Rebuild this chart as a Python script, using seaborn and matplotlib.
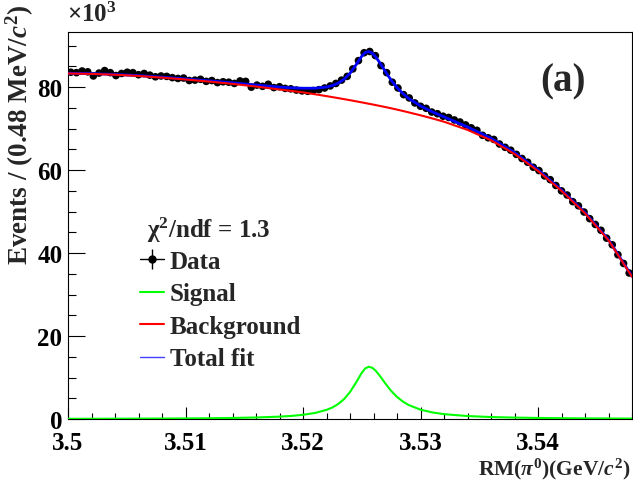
import numpy as np
import pandas as pd
import matplotlib
matplotlib.use("Agg")
import matplotlib.pyplot as plt
import seaborn as sns
from matplotlib.lines import Line2D
from matplotlib.legend_handler import HandlerTuple
from matplotlib.ticker import MultipleLocator, FuncFormatter

# ---------------- data (in units of 10^3 events) ----------------
x_low = 3.500          # GeV/c^2, first bin edge
bin_width = 0.00048    # GeV/c^2

counts = [83.6, 83.5, 83.9, 83.7, 82.7, 83.4, 84.0, 83.5, 82.8, 83.3,
          83.6, 83.5, 83.0, 83.3, 82.9, 82.5, 82.7, 82.6, 82.3, 82.1,
          82.2, 81.6, 81.7, 81.9, 81.4, 81.6, 81.1, 81.3, 81.2, 80.9,
          81.5, 81.4, 80.0, 80.5, 80.2, 80.7, 79.9, 80.1, 79.7, 79.6,
          79.3, 79.1, 79.0, 79.2, 79.4, 79.8, 80.3, 80.9, 81.7, 82.6,
          84.4, 86.4, 88.3, 88.6, 87.6, 85.2, 83.5, 81.2, 79.8, 78.2,
          77.4, 76.2, 75.4, 74.9, 74.0, 73.6, 73.0, 72.7, 72.1, 71.6,
          70.9, 70.2, 69.6, 68.4, 67.8, 67.4, 66.3, 65.5, 64.8, 63.8,
          62.8, 61.9, 60.7, 59.9, 58.6, 57.7, 56.3, 55.0, 54.0, 52.4,
          51.4, 49.9, 48.3, 46.9, 45.5, 43.6, 42.0, 39.6, 37.5, 35.2]

fit_x = [3.500, 3.502, 3.504, 3.506, 3.508, 3.510, 3.512, 3.514, 3.516, 3.518,
         3.519, 3.520, 3.521, 3.522, 3.5225, 3.523, 3.5235, 3.524, 3.5245, 3.525,
         3.5253, 3.5256, 3.5259, 3.5262, 3.5266, 3.527, 3.5275, 3.528, 3.5285, 3.529,
         3.530, 3.531, 3.532, 3.534, 3.536, 3.538, 3.540, 3.542, 3.544, 3.546, 3.548]

background = [83.3, 83.2, 83.0, 82.7, 82.3, 81.85, 81.35, 80.8, 80.15, 79.45,
              79.1, 78.74, 78.3, 77.84, 77.6, 77.36, 77.11, 76.86, 76.6, 76.33,
              76.17, 76.0, 75.84, 75.67, 75.44, 75.21, 74.91, 74.59, 74.26, 73.92,
              73.22, 72.47, 71.67, 69.7, 67.2, 63.9, 59.8, 55.0, 49.6, 43.1, 34.3]

signal = [0.05, 0.06, 0.07, 0.09, 0.11, 0.14, 0.18, 0.25, 0.36, 0.57,
          0.74, 1.01, 1.44, 2.19, 2.78, 3.62, 4.81, 6.49, 8.72, 11.13,
          12.2, 12.6, 12.34, 11.6, 10.18, 8.6, 6.78, 5.32, 4.2, 3.36,
          2.25, 1.59, 1.17, 0.71, 0.47, 0.34, 0.25, 0.19, 0.15, 0.13, 0.10]

chi2_text = r"$\mathrm{\chi}^{2}$/ndf = 1.3"
legend_labels = ["Data", "Signal", "Background", "Total fit"]

# ---------------- tables ----------------
n = len(counts)
centers = x_low + bin_width * (np.arange(n) + 0.5)
data_df = pd.DataFrame({"x": centers, "y": counts,
                        "err": np.sqrt(np.array(counts) * 1000.0) / 1000.0})
fit_df = pd.DataFrame({"x": fit_x, "bkg": background, "sig": signal})
fit_df["total"] = fit_df["bkg"] + fit_df["sig"]

# ---------------- style ----------------
sns.set_theme(style="ticks")
plt.rcParams.update({
    "font.family": ["Liberation Serif", "DejaVu Serif"],
    "font.weight": "bold",
    "mathtext.fontset": "custom",
    "mathtext.rm": "Liberation Serif:bold",
    "mathtext.it": "Liberation Serif:italic:bold",
    "mathtext.bf": "Liberation Serif:bold",
    "axes.edgecolor": "black",
    "axes.linewidth": 0.8,
})

W, H = 633, 481
fig = plt.figure(figsize=(W / 100, H / 100), dpi=100)
ax = fig.add_axes([68 / W, 1 - 420 / H, (632 - 68) / W, (420 - 33) / H])

# data
ax.errorbar(data_df["x"], data_df["y"], yerr=data_df["err"], fmt="none",
            ecolor="black", elinewidth=1.0, capsize=0, zorder=2)
sns.scatterplot(data=data_df, x="x", y="y", ax=ax, color="black", s=30,
                edgecolor="none", linewidth=0, zorder=3, legend=False)
# fits
sns.lineplot(data=fit_df, x="x", y="total", ax=ax, color="#0000ff", lw=2.0, zorder=4)
sns.lineplot(data=fit_df, x="x", y="bkg", ax=ax, color="#ff0000", lw=1.5, zorder=5)
sns.lineplot(data=fit_df, x="x", y="sig", ax=ax, color="#00ff00", lw=1.5, zorder=6)

ax.set_xlim(3.5, 3.548)
ax.set_ylim(0, 93.3)
ax.set_xlabel("")
ax.set_ylabel("")

ax.xaxis.set_major_locator(MultipleLocator(0.01))
ax.xaxis.set_minor_locator(MultipleLocator(0.002))
ax.yaxis.set_major_locator(MultipleLocator(20))
ax.yaxis.set_minor_locator(MultipleLocator(5))
ax.xaxis.set_major_formatter(FuncFormatter(lambda v, p: f"{v:g}"))
ax.yaxis.set_major_formatter(FuncFormatter(lambda v, p: f"{v:g}"))

ax.tick_params(axis="both", which="both", direction="in", width=0.8,
               colors="black", labelsize=18, top=False, right=False)
ax.tick_params(axis="x", which="major", length=8.6, pad=9)
ax.tick_params(axis="x", which="minor", length=4.3)
ax.tick_params(axis="y", which="major", length=12.2, pad=4)
ax.tick_params(axis="y", which="minor", length=6.1)
for lab in ax.get_xticklabels() + ax.get_yticklabels():
    lab.set_fontweight("bold")
for s in ax.spines.values():
    s.set_visible(True)
    s.set_color("black")

# texts
fig.text(20 / W, 1 - 4 / H, r"Events / (0.48 MeV/$c^{2}$)", rotation=90,
         ha="center", va="top", fontsize=19.5, fontweight="bold")
fig.text(630 / W, 1 - 475 / H, r"RM($\pi^{0}$)(GeV/$c^{2}$)",
         ha="right", va="baseline", fontsize=15.5, fontweight="bold")
fig.text(67 / W, 1 - 22 / H, r"$\times$10$^{3}$", ha="left", va="baseline",
         fontsize=18, fontweight="bold")
fig.text(563 / W, 1 - 82 / H, "(a)", ha="center", va="center",
         fontsize=28, fontweight="bold")
fig.text(147 / W, 1 - 230 / H, chi2_text, ha="left", va="center",
         fontsize=18, fontweight="bold")

# legend
h_data = (Line2D([], [], color="black", lw=1.0),
          Line2D([], [], color="black", lw=0, marker="|", ms=14, mew=1.0),
          Line2D([], [], color="black", lw=0, marker="o", ms=5))
h_sig = Line2D([], [], color="#00ff00", lw=1.5)
h_bkg = Line2D([], [], color="#ff0000", lw=1.5)
h_tot = Line2D([], [], color="#4040ff", lw=1.0)
leg = ax.legend([h_data, h_sig, h_bkg, h_tot], legend_labels,
                handler_map={tuple: HandlerTuple(ndivide=1, pad=0)},
                loc="upper left", bbox_to_anchor=(140 / W, 1 - 251 / H),
                bbox_transform=fig.transFigure, frameon=False,
                borderpad=0, borderaxespad=0, handlelength=0.95,
                handletextpad=0.25, labelspacing=0.38,
                prop={"family": "Liberation Serif", "weight": "bold", "size": 18})

fig.savefig("out.png", dpi=100)
